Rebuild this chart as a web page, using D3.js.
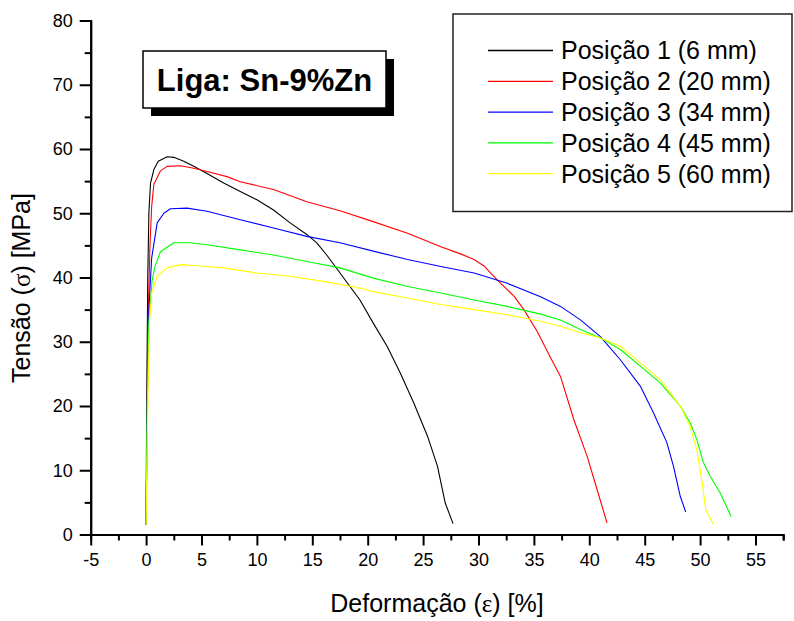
<!DOCTYPE html>
<html>
<head>
<meta charset="utf-8">
<script src="https://cdn.jsdelivr.net/npm/d3@7"></script>
<style>
  html, body { margin: 0; padding: 0; background: #fff; }
  svg { display: block; font-family: "Liberation Sans", Arial, sans-serif; }
</style>
</head>
<body>
<svg id="chart" width="794" height="621"></svg>
<script>
// Stress–strain curves, alloy Sn-9%Zn, five sampling positions.
// Each series: [strain ε (%), stress σ (MPa)]
const pos1 = [[0,1.5],[0.05,20],[0.15,40],[0.25,50],[0.4,54.7],[0.7,56.8],[1.1,58.1],[1.9,58.8],[2.5,58.7],[3.4,58.1],[4.3,57.3],[5.5,56.2],[7.0,54.7],[8.5,53.4],[10,52.1],[11.5,50.5],[13,48.5],[14.5,46.7],[15.4,45.4],[16.3,43.5],[17.5,40.7],[18.4,38.6],[19.3,36.5],[20.5,32.9],[21.75,29.3],[22.95,25.1],[24.15,20.5],[25.4,15.3],[26.3,10.6],[27,4.9],[27.7,1.7]];
const pos2 = [[0,1.5],[0.1,20],[0.2,35],[0.35,45],[0.5,51],[0.7,54.5],[1.3,56.6],[1.9,57.3],[3.1,57.4],[4.3,57.0],[5.5,56.5],[7.3,55.7],[8.5,54.9],[11.5,53.7],[14.5,51.8],[17.5,50.4],[20.5,48.7],[23.6,46.9],[26.6,44.8],[28.5,43.6],[29.6,42.8],[30.5,41.8],[31.1,40.7],[32,39.1],[33.2,37.1],[34.1,35],[35.3,31.6],[36.6,27.2],[37.4,24.6],[38.6,17.9],[39.8,12.2],[40.7,7],[41.6,1.8]];
const pos3 = [[0,1.5],[0.1,20],[0.25,35],[0.5,43],[1.0,48.5],[1.6,50],[2.2,50.7],[3.7,50.8],[5.5,50.3],[8.5,49],[11.5,47.7],[14.5,46.4],[17.5,45.4],[20.5,44.1],[23.6,42.8],[26.6,41.7],[29.6,40.7],[32.6,39.1],[35.6,37.0],[37.4,35.5],[39.2,33.4],[41,30.8],[42.8,27.2],[44.6,23.1],[45.8,18.9],[47,14.3],[47.6,10.6],[48.2,6],[48.7,3.5]];
const pos4 = [[0,1.5],[0.1,20],[0.25,33],[0.54,39.5],[0.8,41.7],[1.29,44.0],[2.5,45.4],[4,45.4],[5.5,45.1],[8.5,44.3],[11.5,43.5],[14.5,42.5],[17.5,41.5],[20.5,39.9],[23.6,38.6],[26.6,37.6],[29.6,36.5],[32.6,35.5],[35.6,34.3],[37.4,33.4],[39.2,31.9],[41,30.6],[42.8,28.8],[44.6,26.2],[46.4,23.6],[48.2,20],[49.1,17.4],[49.7,14.8],[50.3,11.2],[50.9,9.1],[51.8,6.5],[52.8,2.8]];
const pos5 = [[0,1.5],[0.15,20],[0.3,33],[0.5,37.5],[1.0,40.2],[1.9,41.5],[3.1,42],[4.9,41.8],[7,41.5],[10,40.7],[13,40.2],[16,39.4],[19.2,38.4],[20.5,37.8],[23.6,36.8],[26.6,35.8],[29.6,35],[32.6,34.2],[35.6,33.2],[37.4,32.4],[39.2,31.4],[41,30.6],[42.8,29.3],[44.6,26.7],[46.4,24.1],[48.2,20],[49.1,16.8],[49.7,13.2],[50.2,8],[50.5,3.9],[51.2,1.6]];

const seriesNames = ["Posição 1 (6 mm)", "Posição 2 (20 mm)", "Posição 3 (34 mm)", "Posição 4 (45 mm)", "Posição 5 (60 mm)"];
const seriesColors = ["#000000", "#ff0000", "#0000ff", "#00ff00", "#ffff00"];
const seriesData = [pos1, pos2, pos3, pos4, pos5];

const xMajorTicks = [-5, 0, 5, 10, 15, 20, 25, 30, 35, 40, 45, 50, 55];
const xMinorTicks = [-2.5, 2.5, 7.5, 12.5, 17.5, 22.5, 27.5, 32.5, 37.5, 42.5, 47.5, 52.5, 57.5];
const yMajorTicks = [0, 10, 20, 30, 40, 50, 60, 70, 80];
const yMinorTicks = [5, 15, 25, 35, 45, 55, 65, 75];

const alloyLabel = "Liga: Sn-9%Zn";

const svg = d3.select("#chart");

const x = d3.scaleLinear().domain([-5, 57.5]).range([90.7, 783.2]);
const y = d3.scaleLinear().domain([0, 80]).range([534.5, 20.5]);

// Curves
const line = d3.line().x(d => x(d[0])).y(d => y(d[1]));
seriesData.forEach((pts, k) => {
  svg.append("path")
    .datum(pts)
    .attr("d", line)
    .attr("fill", "none")
    .attr("stroke", seriesColors[k])
    .attr("stroke-width", 1.1)
    .attr("stroke-linejoin", "round");
});

// Axes
const plain = d => String(d);
const axisStyle = g => {
  g.select(".domain").attr("stroke", "#000").attr("stroke-width", 2);
  g.selectAll(".tick line").attr("stroke", "#000").attr("stroke-width", 2);
  g.selectAll(".tick text").attr("fill", "#000").attr("font-size", 18)
    .attr("font-family", "'Liberation Sans', Arial, sans-serif");
};

svg.append("g")
  .attr("transform", `translate(0,${y(0)})`)
  .call(d3.axisBottom(x).tickValues(xMinorTicks).tickSize(6).tickFormat(""))
  .call(axisStyle);
svg.append("g")
  .attr("transform", `translate(0,${y(0)})`)
  .call(d3.axisBottom(x).tickValues(xMajorTicks).tickSize(11).tickPadding(8).tickSizeOuter(0).tickFormat(plain))
  .call(axisStyle);

svg.append("g")
  .attr("transform", `translate(${x(-5)},0)`)
  .call(d3.axisLeft(y).tickValues(yMinorTicks).tickSize(6).tickFormat(""))
  .call(axisStyle);
svg.append("g")
  .attr("transform", `translate(${x(-5)},0)`)
  .call(d3.axisLeft(y).tickValues(yMajorTicks).tickSize(11).tickPadding(7).tickSizeOuter(0).tickFormat(plain))
  .call(axisStyle);

// Axis titles
const xTitle = svg.append("text")
  .attr("x", 437).attr("y", 612)
  .attr("text-anchor", "middle")
  .attr("font-size", 25);
xTitle.append("tspan").text("Deformação (");
xTitle.append("tspan").attr("font-family", "'Liberation Serif', 'Times New Roman', serif").text("ε");
xTitle.append("tspan").text(") [%]");

const yTitle = svg.append("text")
  .attr("transform", "translate(30,288) rotate(-90)")
  .attr("text-anchor", "middle")
  .attr("font-size", 25);
yTitle.append("tspan").text("Tensão (");
yTitle.append("tspan").attr("font-family", "'Liberation Serif', 'Times New Roman', serif").text("σ");
yTitle.append("tspan").text(") [MPa]");

// Alloy label with drop shadow
const lab = svg.append("g");
lab.append("rect").attr("x", 151).attr("y", 59).attr("width", 243).attr("height", 57).attr("fill", "#000");
lab.append("rect").attr("x", 143).attr("y", 51).attr("width", 243).attr("height", 57)
  .attr("fill", "#fff").attr("stroke", "#000").attr("stroke-width", 1.5);
lab.append("text").attr("x", 264.5).attr("y", 91)
  .attr("text-anchor", "middle").attr("font-size", 31).attr("font-weight", "bold")
  .text(alloyLabel);

// Legend
const leg = svg.append("g");
leg.append("rect").attr("x", 453).attr("y", 14).attr("width", 339).attr("height", 197.5)
  .attr("fill", "#fff").attr("stroke", "#222").attr("stroke-width", 1.5);
seriesNames.forEach((name, k) => {
  const ry = 50.5 + k * 30.8;
  leg.append("line").attr("x1", 488).attr("x2", 553).attr("y1", ry).attr("y2", ry)
    .attr("stroke", seriesColors[k]).attr("stroke-width", 1.3);
  leg.append("text").attr("x", 561).attr("y", ry + 8.8).attr("font-size", 25).text(name);
});
</script>
</body>
</html>
